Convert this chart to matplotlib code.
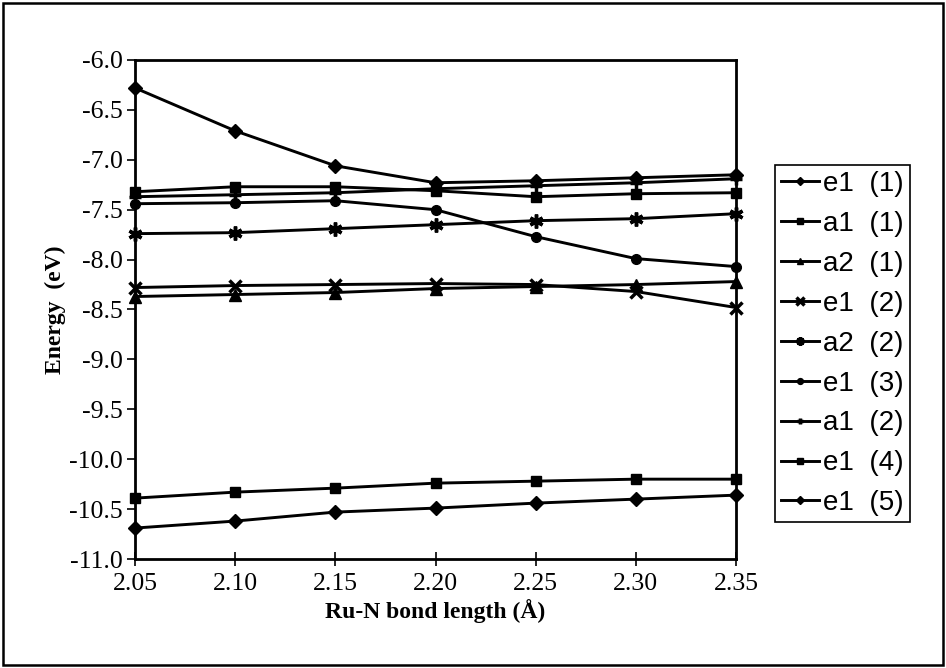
import matplotlib
matplotlib.use("Agg")
import matplotlib.pyplot as plt
from matplotlib.patches import Rectangle

# Ru-N bond length (Angstrom)
bond_length = [2.05, 2.10, 2.15, 2.20, 2.25, 2.30, 2.35]

# orbital energies (eV)
e1_1 = [-6.28, -6.71, -7.06, -7.23, -7.21, -7.18, -7.15]
a1_1 = [-7.32, -7.27, -7.27, -7.31, -7.37, -7.34, -7.33]
a2_1 = [-8.37, -8.35, -8.33, -8.29, -8.27, -8.25, -8.22]
e1_2 = [-8.28, -8.26, -8.25, -8.24, -8.25, -8.32, -8.48]
a2_2 = [-7.74, -7.73, -7.69, -7.65, -7.61, -7.59, -7.54]
e1_3 = [-7.44, -7.43, -7.41, -7.50, -7.77, -7.99, -8.07]
a1_2 = [-7.37, -7.35, -7.33, -7.29, -7.26, -7.23, -7.19]
e1_4 = [-10.39, -10.33, -10.29, -10.24, -10.22, -10.20, -10.20]
e1_5 = [-10.69, -10.62, -10.53, -10.49, -10.44, -10.40, -10.36]

labels = ["e1  (1)", "a1  (1)", "a2  (1)", "e1  (2)", "a2  (2)",
          "e1  (3)", "a1  (2)", "e1  (4)", "e1  (5)"]
series = [e1_1, a1_1, a2_1, e1_2, a2_2, e1_3, a1_2, e1_4, e1_5]
markers = ["D", "s", "^", "x", (6, 2, 0), "o", "+", "s", "D"]
sizes = [7, 7, 8, 9, 10, 7, 8, 7, 7]

serif = "Liberation Serif"
sans = "Liberation Sans"

fig = plt.figure(figsize=(9.46, 6.68), dpi=100)
ax = fig.add_axes([135 / 946, 1 - 559 / 668, (736 - 135) / 946, (559 - 60) / 668])

for vals, lab, m, ms in zip(series, labels, markers, sizes):
    ax.plot(bond_length, vals, color="black", lw=2.1, marker=m, ms=ms,
            mew=2.5 if m in ("x", "+") or isinstance(m, tuple) else 1,
            label=lab, clip_on=False)

ax.set_xlim(2.05, 2.35)
ax.set_ylim(-11.0, -6.0)
ax.set_xticks(bond_length)
ax.set_xticklabels(["%.2f" % v for v in bond_length])
yt = [-6.0 - 0.5 * i for i in range(11)]
ax.set_yticks(yt)
ax.set_yticklabels(["%.1f" % v for v in yt])

for s in ax.spines.values():
    s.set_linewidth(2)
ax.tick_params(axis="x", direction="inout", length=10, width=1.2, pad=5)
ax.tick_params(axis="y", direction="out", length=6, width=1.2, pad=3)
for t in ax.get_xticklabels() + ax.get_yticklabels():
    t.set_fontfamily(serif)
    t.set_fontsize(18.5)

ax.set_xlabel("Ru-N bond length (Å)", fontfamily=serif, fontweight="bold",
              fontsize=17, labelpad=3)
ax.set_ylabel("Energy  (eV)", fontfamily=serif, fontweight="bold",
              fontsize=17, labelpad=2)

leg = ax.legend(loc="upper left", bbox_to_anchor=(775 / 946, 1 - 165 / 668),
                bbox_transform=fig.transFigure, borderaxespad=0,
                fancybox=False, edgecolor="black", framealpha=1,
                prop={"family": sans, "size": 20}, markerscale=0.6,
                handlelength=1.35, handletextpad=0.15, labelspacing=0.5,
                borderpad=0.22)
leg.get_frame().set_linewidth(1.2)

# outer frame around the whole picture
fig.patches.append(Rectangle((0.003, 0.004), 0.994, 0.992, transform=fig.transFigure,
                             fill=False, lw=1.8, edgecolor="black"))

fig.savefig("out.png", dpi=100)
